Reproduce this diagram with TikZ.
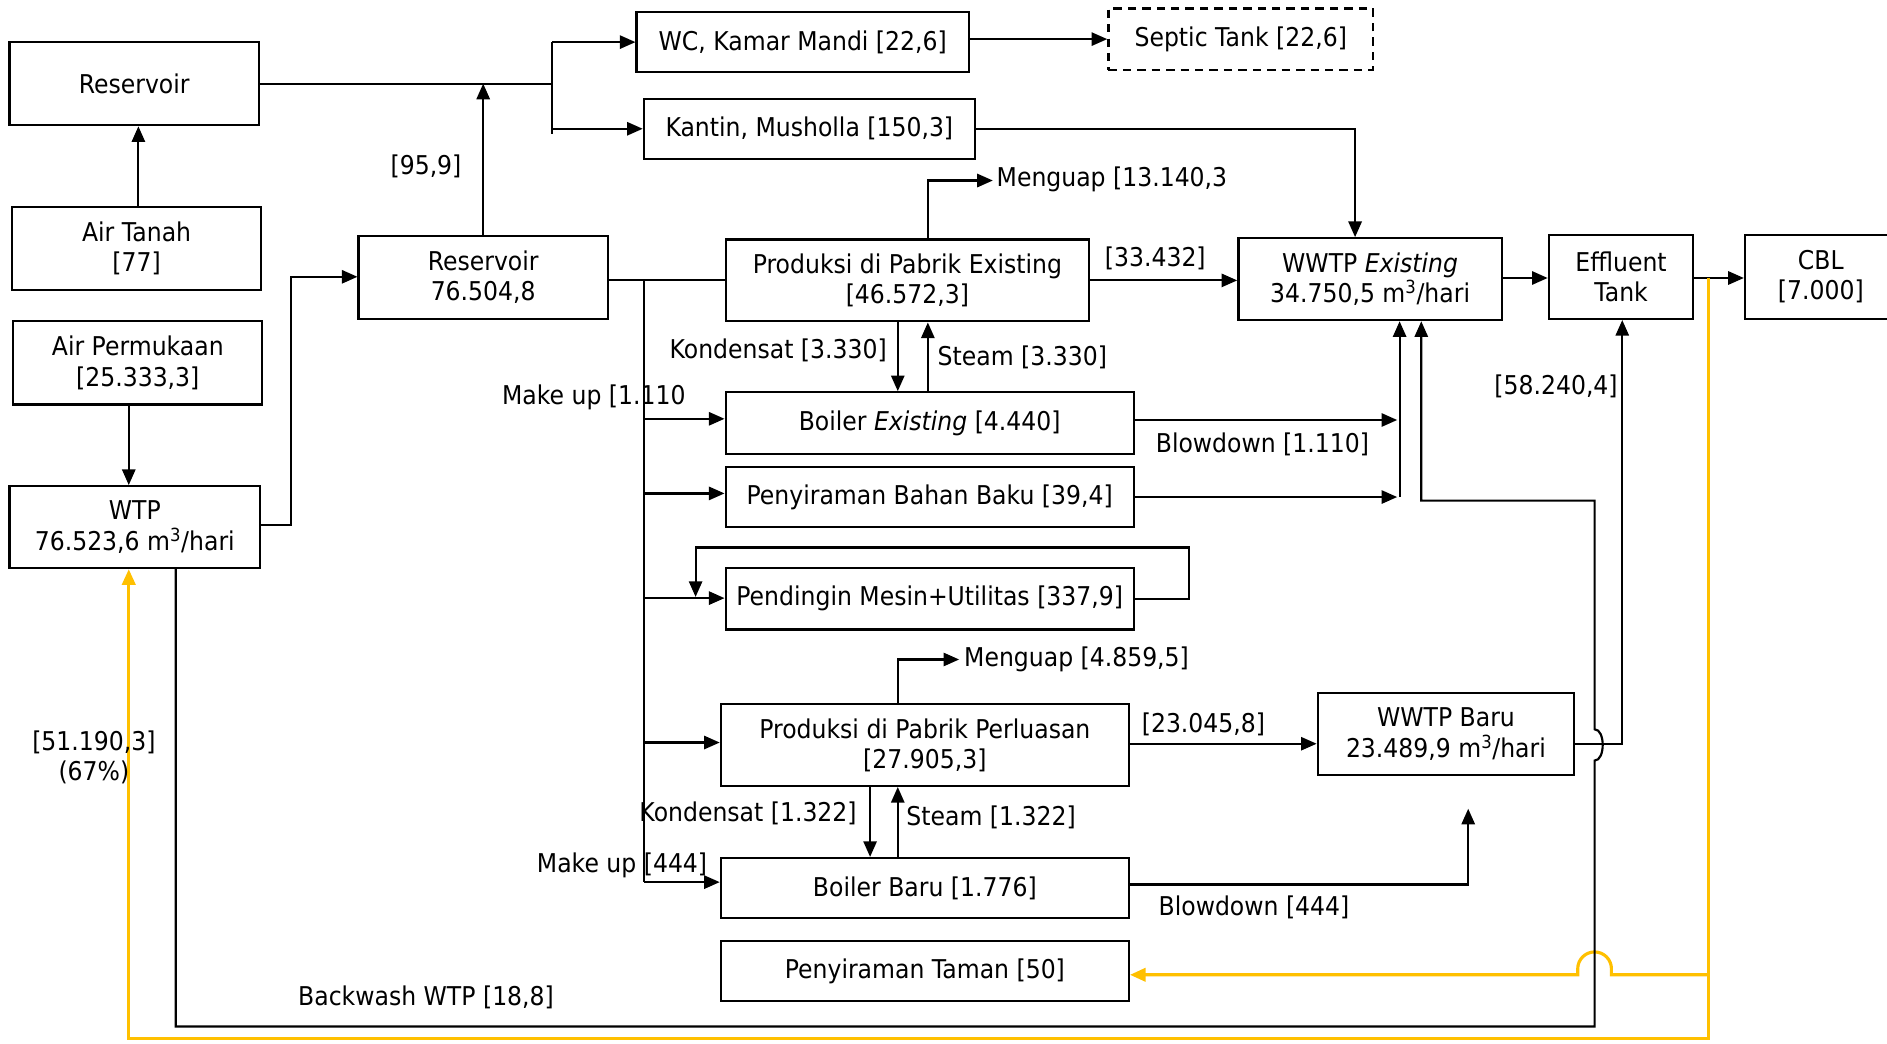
\documentclass[tikz,border=0pt]{standalone}
\usepackage{fontspec}
\setmainfont{DejaVu Sans}[FakeStretch=0.91]
\usetikzlibrary{arrows.meta,calc}
\definecolor{recycle}{HTML}{FFC000}
\tikzset{
  lbl/.style={font=\fontsize{21.5}{25}\selectfont, inner sep=0pt, align=center},
  box/.style 2 args={draw, line width=1.9pt, lbl, minimum width=#1, minimum height=#2},
  flow/.style={line width=1.8pt},
  arr/.style={flow, -{Triangle[length=13pt,width=11pt]}},
  yarr/.style={line width=2.6pt, draw=recycle, -{Triangle[length=13pt,width=11pt,fill=recycle]}},
}
\begin{document}
\begin{tikzpicture}[x=1pt,y=-1pt]
\fill[white] (0,0) rectangle (1568,867);
\clip (0,0) rectangle (1568,867);

% ---- units ----
\node[box={207}{69}] (res1) at (111.5,69.5) {Reservoir};
\node[box={207}{69}] (tanah) at (113.5,206.5) {Air Tanah\\{[77]}};
\node[box={207}{69}] (perm) at (114.5,301.5) {Air Permukaan\\{[25.333,3]}};
\node[box={208}{68}] (wtp) at (112,438) {WTP\\76.523,6 m\textsuperscript{3}/hari};
\node[box={207}{69}] (res2) at (401.5,230.5) {Reservoir\\76.504,8};
\node[box={276}{50}] (wc) at (667,35) {WC, Kamar Mandi [22,6]};
\node[box={220}{51}, dash pattern=on 7pt off 5pt] (septic) at (1031,32.5) {Septic Tank [22,6]};
\node[box={275}{50}] (kantin) at (672.5,107) {Kantin, Musholla [150,3]};
\node[box={302}{68}] (prodex) at (754,233) {Produksi di Pabrik Existing\\{[46.572,3]}};
\node[box={219}{68}] (wwtpex) at (1138.5,232) {WWTP \textit{Existing}\\34.750,5 m\textsuperscript{3}/hari};
\node[box={120}{70}] (eff) at (1347,230) {Effluent\\Tank};
\node[box={126}{70}] (cbl) at (1513,230) {CBL\\{[7.000]}};
\node[box={339}{51}] (boilex) at (772.5,351.5) {Boiler \textit{Existing} [4.440]};
\node[box={339}{50}] (bahan) at (772.5,413) {Penyiraman Bahan Baku [39,4]};
\node[box={339}{51}] (pend) at (772.5,497.5) {Pendingin Mesin+Utilitas [337,9]};
\node[box={339}{68}] (prodper) at (768.5,619) {Produksi di Pabrik Perluasan\\{[27.905,3]}};
\node[box={213}{68}] (wwtpb) at (1201.5,610) {WWTP Baru\\23.489,9 m\textsuperscript{3}/hari};
\node[box={339}{50}] (boilb) at (768.5,738) {Boiler Baru [1.776]};
\node[box={339}{50}] (taman) at (768.5,807) {Penyiraman Taman [50]};

% ---- junction points ----
\coordinate (sp) at (459,70);
\coordinate (bus) at (535,233);
\coordinate (busend) at (535,733);
\coordinate (bw) at (1325,416);

% ---- sources ----
\draw[arr] (tanah.north -| 115,0) -- (res1.south -| 115,0);
\draw[arr] (perm.south -| 107,0) -- (wtp.north -| 107,0);
\draw[arr] (wtp.east |- 0,436) -- (242,436) |- (res2.west |- 0,230);

% ---- domestic use ----
\draw[flow] (res1.east) -- (res1.east -| sp);
\draw[flow] (wc.west -| sp) -- (459,111);
\draw[arr] (wc.west -| sp) -- (wc.west);
\draw[arr] (kantin.west -| sp) -- (kantin.west);
\draw[arr] (res2.north) -- (res2.north |- res1.east);
\draw[arr] (wc.east |- septic.west) -- (septic.west);
\draw[arr] (kantin.east) -- (kantin.east -| 1126,0) -- (wwtpex.north -| 1126,0);

% ---- process water bus ----
\draw[flow] (res2.east |- bus) -- (prodex.west |- bus);
\draw[flow] (bus) -- (busend);
\draw[arr] (bus |- 0,348) -- (boilex.west |- 0,348);
\draw[arr] (bus |- 0,410) -- (bahan.west |- 0,410);
\draw[arr] (bus |- 0,497) -- (pend.west |- 0,497);
\draw[arr] (bus |- 0,617) -- (prodper.west |- 0,617);
\draw[arr] (busend) -- (boilb.west |- busend);

% ---- existing plant ----
\draw[arr] (prodex.north -| 771,0) -- (771,150) -- (825,150);
\draw[arr] (prodex.east) -- (wwtpex.west |- prodex.east);
\draw[arr] (prodex.south -| 746,0) -- (boilex.north -| 746,0);
\draw[arr] (boilex.north -| 771,0) -- (prodex.south -| 771,0);
\draw[arr] (boilex.east |- 0,349) -- (1161,349);
\draw[arr] (bahan.east) -- (1161,413);
\draw[arr] (1163,413) -- (wwtpex.south -| 1163,0);
\draw[arr] (pend.east) -- (988,497.5) -- (988,455) -- (578,455) -- (578,496);

% ---- extension plant ----
\draw[arr] (prodper.north -| 746,0) -- (746,548) -- (797,548);
\draw[arr] (prodper.east |- 0,618) -- (wwtpb.west |- 0,618);
\draw[arr] (prodper.south -| 723,0) -- (boilb.north -| 723,0);
\draw[arr] (boilb.north -| 746,0) -- (prodper.south -| 746,0);
\draw[arr] (boilb.east |- 0,735) -- (1220,735) -- (1220,672);

% ---- treatment and discharge ----
\draw[arr] (wwtpex.east |- 0,231) -- (eff.west |- 0,231);
\draw[arr] (eff.east |- 0,231) -- (cbl.west |- 0,231);
\draw[arr] (wwtpb.east |- 0,618) -- (1348,618) -- (eff.south -| 1348,0);

% ---- recycled water ----
\draw[yarr] (1420,231) -- (1420,863) -- (107,863) -- (wtp.south -| 107,0);
\draw[yarr] (1420,810) -- (1339,810) -- (1339,805) arc[start angle=0,end angle=-180,radius=14] -- (1311,810) -- (taman.east |- 0,810);

% ---- backwash ----
\draw[arr] (wtp.south -| 146,0) -- (146,853) -- (1325,853) -- (1325,632)
  .. controls (1334,632) and (1334,606) .. (1325,606) -- (bw) -- (1181,416) -- (wwtpex.south -| 1181,0);

% ---- flow labels ----
\node[lbl] (l959) at (354,138) {[95,9]};
\node[lbl, anchor=west] (lmg1) at (828,149) {Menguap [13.140,3};
\node[lbl] (l33) at (960,215) {[33.432]};
\node[lbl, anchor=east] (lkd1) at (737,291) {Kondensat [3.330]};
\node[lbl, anchor=west] (lst1) at (779,297) {Steam [3.330]};
\node[lbl, anchor=west] (lmu1) at (417,330) {Make up [1.110};
\node[lbl] (lbd1) at (1049,369) {Blowdown [1.110]};
\node[lbl] (l58) at (1293,321) {[58.240,4]};
\node[lbl, anchor=west] (lmg2) at (801,548) {Menguap [4.859,5]};
\node[lbl] (l23) at (1000,602) {[23.045,8]};
\node[lbl] (l51) at (78,629) {[51.190,3]\\(67\%)};
\node[lbl, anchor=east] (lkd2) at (712,676) {Kondensat [1.322]};
\node[lbl, anchor=west] (lst2) at (753,679) {Steam [1.322]};
\node[lbl, anchor=west] (lmu2) at (446,719) {Make up [444]};
\node[lbl] (lbd2) at (1042,754) {Blowdown [444]};
\node[lbl] (lbw) at (354,829) {Backwash WTP [18,8]};
\end{tikzpicture}
\end{document}
